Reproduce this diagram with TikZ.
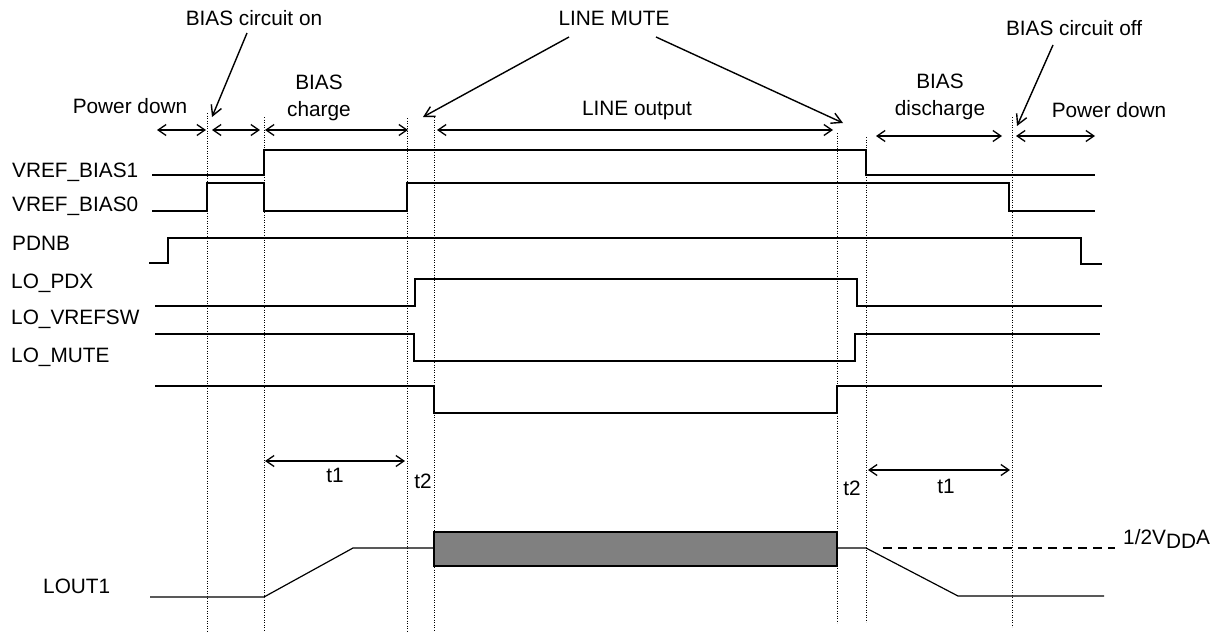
\documentclass[tikz,border=0pt]{standalone}
\usepackage{fontspec}
\setmainfont{Liberation Sans}
\usetikzlibrary{arrows.meta}
\tikzset{
  lbl/.style={font=\fontsize{20.8}{24}\selectfont, inner sep=0pt, anchor=base},
  sig/.style={line width=1.4pt, line join=miter},
  guide/.style={line width=0.9pt, dash pattern=on 1.1pt off 1.4pt},
  dim/.style={line width=1.3pt, {Straight Barb[length=8pt,width=11pt]}-{Straight Barb[length=8pt,width=11pt]}},
  callout/.style={line width=1.4pt, -{Straight Barb[length=10pt,width=11pt]}},
}
\begin{document}
\begin{tikzpicture}[x=1pt,y=-1pt]
\useasboundingbox (0,0) rectangle (1223,635);
% guide lines
\draw[guide] (207,113) -- (207,631);
\draw[guide] (264,117) -- (264,631);
\draw[guide] (407,118) -- (407,631);
\draw[guide] (434,117) -- (434,631);
\draw[guide] (837,133) -- (837,623);
\draw[guide] (866,137) -- (866,622);
\draw[guide] (1012,117) -- (1012,627);
% top labels
\node[lbl] (bon) at (254,25) {BIAS circuit on};
\node[lbl] (pd1) at (130,113) {Power down};
\node[lbl] (bc1) at (319,89) {BIAS};
\node[lbl] (bc2) at (319,116) {charge};
\node[lbl] (lm) at (614,25) {LINE MUTE};
\node[lbl] (lo) at (637,115) {LINE output};
\node[lbl] (bd1) at (940,88) {BIAS};
\node[lbl] (bd2) at (940,115) {discharge};
\node[lbl] (boff) at (1074,35) {BIAS circuit off};
\node[lbl] (pd2) at (1109,117) {Power down};
% callout arrows
\coordinate (a1) at (212,117);
\coordinate (a2) at (423,117);
\coordinate (a3) at (843,123);
\coordinate (a4) at (1017,126);
\draw[callout] (247,33) -- (a1);
\draw[callout] (569,37) -- (a2);
\draw[callout] (656,37) -- (a3);
\draw[callout] (1053,45) -- (a4);
% dimension arrows
\draw[dim] (157,130) -- (206,130);
\draw[dim] (212,130) -- (260,130);
\draw[dim] (265,130) -- (408,130);
\draw[dim] (437,130) -- (833,130);
\draw[dim] (876,136) -- (1002,136);
\draw[dim] (1016,136) -- (1095,136);
\draw[dim] (265,461) -- (405,461);
\draw[dim] (868,470) -- (1010,470);
\node[lbl] (t1a) at (335,482) {t1};
\node[lbl] (t2a) at (423,488) {t2};
\node[lbl] (t2b) at (852,495) {t2};
\node[lbl] (t1b) at (946,493) {t1};
% signal names
\node[lbl, anchor=base west] (s1) at (12,177) {VREF\_BIAS1};
\node[lbl, anchor=base west] (s2) at (12,211) {VREF\_BIAS0};
\node[lbl, anchor=base west] (s3) at (12,250) {PDNB};
\node[lbl, anchor=base west] (s4) at (11,288) {LO\_PDX};
\node[lbl, anchor=base west] (s5) at (11,324) {LO\_VREFSW};
\node[lbl, anchor=base west] (s6) at (11,362) {LO\_MUTE};
\node[lbl, anchor=base west] (s7) at (43,593) {LOUT1};
% waveforms
\draw[sig] (152,175) -- (264,175) -- (264,150) -- (866,150) -- (866,175) -- (1095,175);
\draw[sig] (152,211) -- (207,211) -- (207,183) -- (264,183) -- (264,211) -- (407,211) -- (407,183) -- (1009,183) -- (1009,211) -- (1095,211);
\draw[sig] (149,263) -- (168,263) -- (168,238) -- (1081,238) -- (1081,264) -- (1102,264);
\draw[sig] (155,306) -- (415,306) -- (415,279) -- (857,279) -- (857,306) -- (1102,306);
\draw[sig] (155,334) -- (414,334) -- (414,361) -- (855,361) -- (855,334) -- (1100,334);
\draw[sig] (155,386) -- (434,386) -- (434,413) -- (837,413) -- (837,386) -- (1102,386);
% LOUT1
\draw[line width=1.2pt] (150,597) -- (264,597) -- (353,548) -- (434,548);
\draw[line width=1.6pt, fill={rgb,255:red,128;green,128;blue,128}] (434,532) rectangle (837,566);
\draw[line width=1.2pt] (837,548) -- (866,548) -- (958,596) -- (1104,596);
\draw[line width=1.2pt, dash pattern=on 9pt off 6pt] (883,548) -- (1115,548);
\node[lbl, anchor=base west] (vdd) at (1123,544) {1/2V\raisebox{-4.5pt}{DD}A};
\end{tikzpicture}
\end{document}
